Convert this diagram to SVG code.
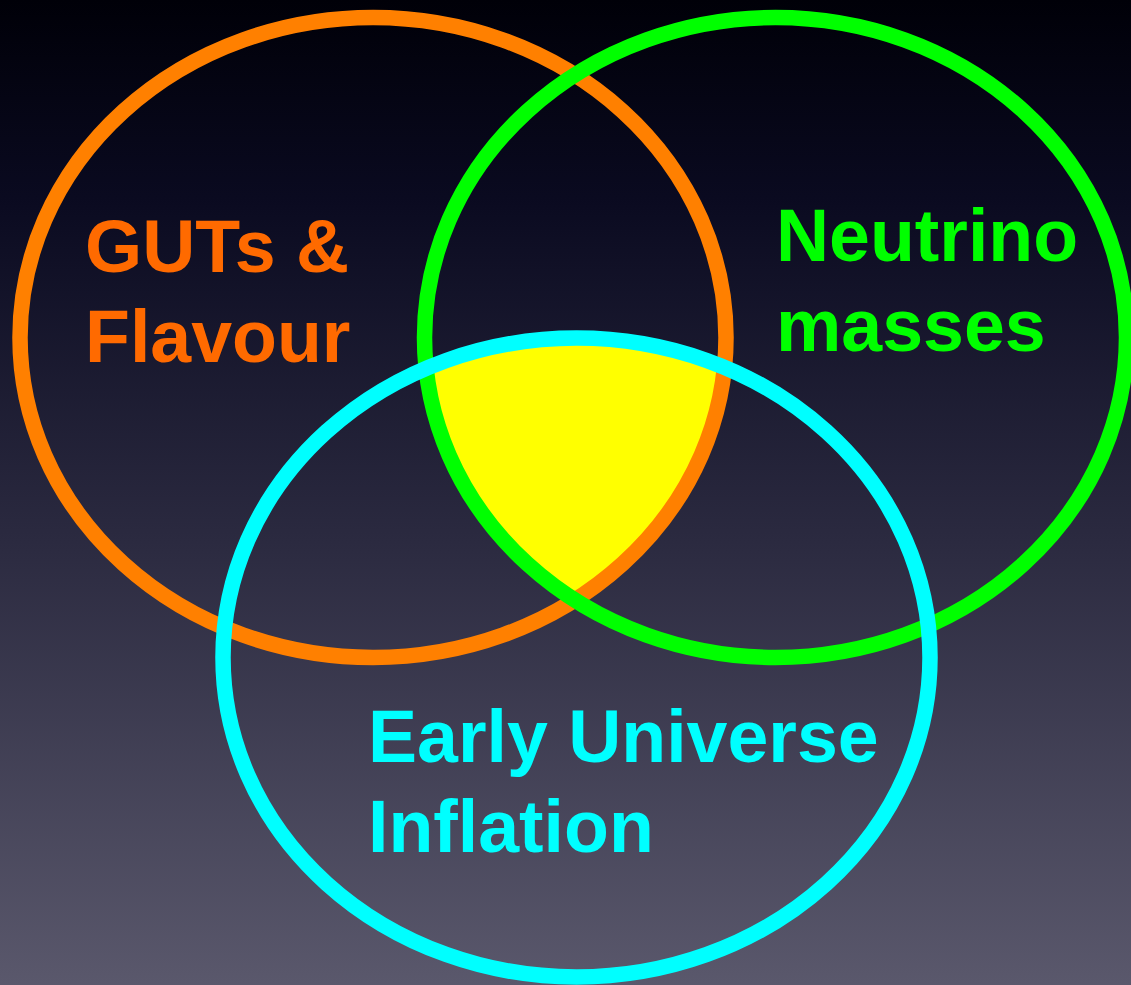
<svg xmlns="http://www.w3.org/2000/svg" width="1131" height="985" viewBox="0 0 1131 985">
  <style>
    .ring { fill: none; stroke-width: 15.5; }
    .label { font-family: "Liberation Sans", Arial, sans-serif; font-weight: bold; font-size: 73.5px; }
  </style>
  <defs>
    <linearGradient id="bg" x1="0" y1="0" x2="0" y2="1">
      <stop offset="0" stop-color="#000008"/>
      <stop offset="0.2" stop-color="#0a0a20"/>
      <stop offset="0.55" stop-color="#2b2a40"/>
      <stop offset="1" stop-color="#5a586c"/>
    </linearGradient>
    <clipPath id="inOrange">
      <ellipse cx="373" cy="337.5" rx="353" ry="320"/>
    </clipPath>
    <clipPath id="inGreen">
      <ellipse cx="775.5" cy="337.5" rx="351" ry="320"/>
    </clipPath>
  </defs>

  <rect width="1131" height="985" fill="url(#bg)"/>

  <!-- common area of all three sets -->
  <g id="overlap" clip-path="url(#inOrange)">
    <g clip-path="url(#inGreen)">
      <ellipse cx="576.5" cy="657.5" rx="353.5" ry="319.5" fill="#ffff00"/>
    </g>
  </g>

  <g id="set-guts">
    <ellipse class="ring" cx="373" cy="337.5" rx="353" ry="320" stroke="#ff8000"/>
    <text class="label" fill="#ff6a00" x="85" y="272">GUTs &amp;</text>
    <text class="label" fill="#ff6a00" x="85" y="362">Flavour</text>
  </g>

  <g id="set-neutrino">
    <ellipse class="ring" cx="775.5" cy="337.5" rx="351" ry="320" stroke="#00ff00"/>
    <text class="label" fill="#00ff00" x="776" y="261">Neutrino</text>
    <text class="label" fill="#00ff00" x="776" y="351">masses</text>
  </g>

  <g id="set-early-universe">
    <ellipse class="ring" cx="576.5" cy="657.5" rx="353.5" ry="319.5" stroke="#00ffff"/>
    <text class="label" fill="#00ffff" x="368" y="762">Early Universe</text>
    <text class="label" fill="#00ffff" x="368" y="852">Inflation</text>
  </g>
</svg>
